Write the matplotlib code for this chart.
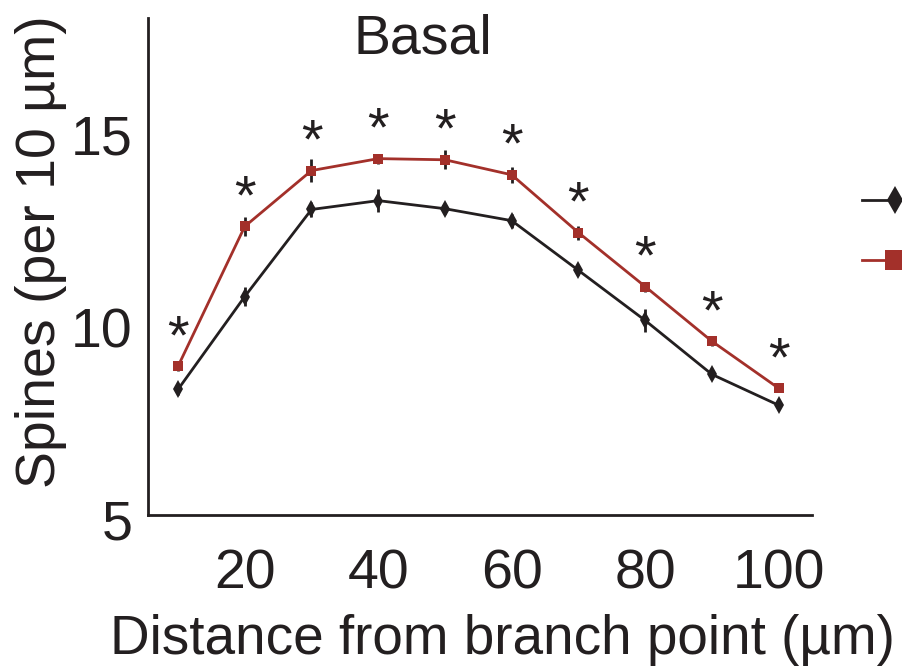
import matplotlib
matplotlib.use("Agg")
import matplotlib.pyplot as plt
import matplotlib.transforms as mtransforms
from matplotlib.lines import Line2D

plt.rcParams['font.family'] = ['Liberation Sans', 'DejaVu Sans']

distance = [10, 20, 30, 40, 50, 60, 70, 80, 90, 100]
control_mean = [8.26, 10.67, 12.93, 13.16, 12.95, 12.64, 11.35, 10.05, 8.65, 7.85]
control_err = [0.15, 0.25, 0.2, 0.3, 0.13, 0.18, 0.13, 0.3, 0.1, 0.1]
treated_mean = [8.86, 12.49, 13.94, 14.25, 14.22, 13.83, 12.33, 10.93, 9.51, 8.29]
treated_err = [0.13, 0.25, 0.3, 0.13, 0.25, 0.2, 0.18, 0.13, 0.13, 0.1]
significant = [True] * 10
series_labels = ['', '']

black = '#231f20'
red = '#a3302a'
fs = 40

fig = plt.figure(figsize=(9.02, 6.66), dpi=100)
ax = fig.add_axes([148 / 902, 1 - 515 / 666, (812 - 148) / 902, (515 - 18) / 666])

ax.errorbar(distance, control_mean, yerr=control_err, color=black, lw=2,
            marker='d', ms=9, mew=0, elinewidth=2, capsize=0)
ax.errorbar(distance, treated_mean, yerr=treated_err, color=red, lw=2,
            marker='s', ms=7, mew=0, elinewidth=2, capsize=0, ecolor=black)

for x, y, s in zip(distance, treated_mean, significant):
    if s:
        ax.annotate('*', (x, y), xytext=(0, 9.5), textcoords='offset points',
                    ha='center', va='baseline', fontsize=fs, color=black)

ax.set_xlim(5.5, 105)
ax.set_ylim(5, 17.9)
ax.set_xticks([20, 40, 60, 80, 100])
ax.set_yticks([5, 10, 15])
ax.tick_params(length=0, labelsize=fs, colors=black)
ax.tick_params(axis='x', pad=24)
ax.tick_params(axis='y', pad=11)
# y labels sit a little lower than their ticks in the original
shift = mtransforms.ScaledTranslation(0, -5 / 100, fig.dpi_scale_trans)
for lab in ax.get_yticklabels():
    lab.set_transform(lab.get_transform() + shift)

for sp in ['top', 'right']:
    ax.spines[sp].set_visible(False)
for sp in ['left', 'bottom']:
    ax.spines[sp].set_linewidth(2)
    ax.spines[sp].set_color(black)

# labels are a bit off-centre in the original
ax.set_xlabel('Distance from branch point (µm)', fontsize=39.5, color=black, labelpad=10,
              x=(502 - 148) / (812 - 148))
ax.set_ylabel('Spines (per 10 µm)', fontsize=fs, color=black, labelpad=3,
              y=(515 - 252) / (515 - 18))
fig.text(423 / 902, 1 - 53 / 666, 'Basal', fontsize=fs, color=black, ha='center', va='baseline')

handles = [Line2D([], [], color=black, lw=2, marker='d', ms=14, mew=0),
           Line2D([], [], color=red, lw=2, marker='s', ms=15, mew=0)]
fig.legend(handles, series_labels, loc='upper left', bbox_to_anchor=(862 / 902, 1 - 190 / 666),
           frameon=False, fontsize=20, handlelength=2.4, borderpad=0, borderaxespad=0,
           labelspacing=1.22, handletextpad=0.5)

fig.savefig('out.png', dpi=100)
